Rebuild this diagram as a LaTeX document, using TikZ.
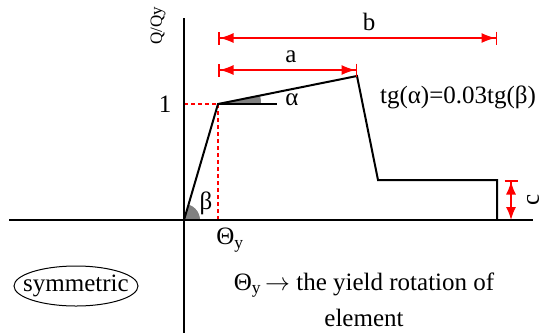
\documentclass[tikz,border=0pt]{standalone}
\usepackage{fontspec}
\setmainfont{Liberation Serif}
\usetikzlibrary{arrows.meta}
\tikzset{
  curve/.style={line width=2pt, black, line join=miter},
  axisline/.style={line width=1.6pt, black},
  guide/.style={red, line width=1.4pt, dash pattern=on 4pt off 3pt},
  dim/.style={red, line width=1.5pt},
  dimboth/.style={dim, {Bar[width=13pt,line width=1.5pt]Latex[length=14pt,width=10pt]}-{Latex[length=14pt,width=10pt]Bar[width=13pt,line width=1.5pt]}},
  dimc/.style={dim, {Bar[width=13pt,line width=1.5pt]Latex[length=13pt,width=10pt]}-{Latex[length=13pt,width=10pt]}},
  lbl/.style={font=\fontsize{25}{30}\selectfont, inner sep=0pt},
}
\begin{document}
\begin{tikzpicture}[x=1pt,y=-1pt]
\path[use as bounding box] (0,0) rectangle (543,333);
% key points
\coordinate (O) at (184,220);
\coordinate (Y) at (218,104);
\coordinate (P) at (357,76);
\coordinate (D) at (378,180);
\coordinate (E) at (497,180);
\coordinate (F) at (497,220);
\coordinate (AxL) at (9,220);
\coordinate (AxR) at (533,220);
\coordinate (AxT) at (184,18);
\coordinate (AxB) at (184,333);
\coordinate (Y0) at (184,104);
\coordinate (Yx) at (218,220);
\coordinate (Hend) at (277,104);
% wedges
\begin{scope}
\clip (O) -- (Y) -- (260,104) -- (260,220) -- cycle;
\fill[gray] (O) circle (16);
\end{scope}
\begin{scope}
\clip (Y) -- (P) -- (357,104) -- cycle;
\fill[gray] (Y) circle (43);
\end{scope}
% guides
\draw[guide] (Y0) -- (Y);
\draw[guide] (Y) -- (Yx);
% axes
\draw[axisline] (AxL) -- (AxR);
\draw[axisline] (AxT) -- (AxB);
% curve
\draw[curve] (O) -- (Y) -- (P) -- (D) -- (E) -- (F);
\draw[line width=1.5pt] (Y) -- (Hend);
% dimensions
\coordinate (a1) at (218,70);
\coordinate (a2) at (357,70);
\coordinate (b1) at (218,38);
\coordinate (b2) at (497,38);
\coordinate (c1) at (511,180);
\coordinate (c2) at (511,220);
\draw[dimboth] (a1) -- (a2);
\draw[dimboth] (b1) -- (b2);
\draw[dimc] (c1) -- (c2);
% labels
\node[lbl] (la) at (291,57) {a};
\node[lbl] (lb) at (369,22) {b};
\node[lbl, rotate=90] (lc) at (533,200) {c};
\node[lbl] (l1) at (165,104) {1};
\node[inner sep=0pt, font=\fontsize{17}{20}\selectfont, rotate=90] (lq) at (158,26) {Q/Qy};
\node[lbl] (lal) at (292,100) {α};
\node[lbl] (lbe) at (206,203) {β};
\node[lbl] (lty) at (230,240) {Θ\textsubscript{y}};
\node[lbl] (ltg) at (458,97) {tg(α)=0.03tg(β)};
\node[lbl] (lsym) at (76,286) {symmetric};
\draw[line width=1pt] (lsym.center) ellipse [x radius=62, y radius=20];
\node[lbl] (lyield) at (364,285) {Θ\textsubscript{y}\,$\rightarrow$ the yield rotation of};
\node[lbl] (lelem) at (364,318) {element};
\end{tikzpicture}
\end{document}
